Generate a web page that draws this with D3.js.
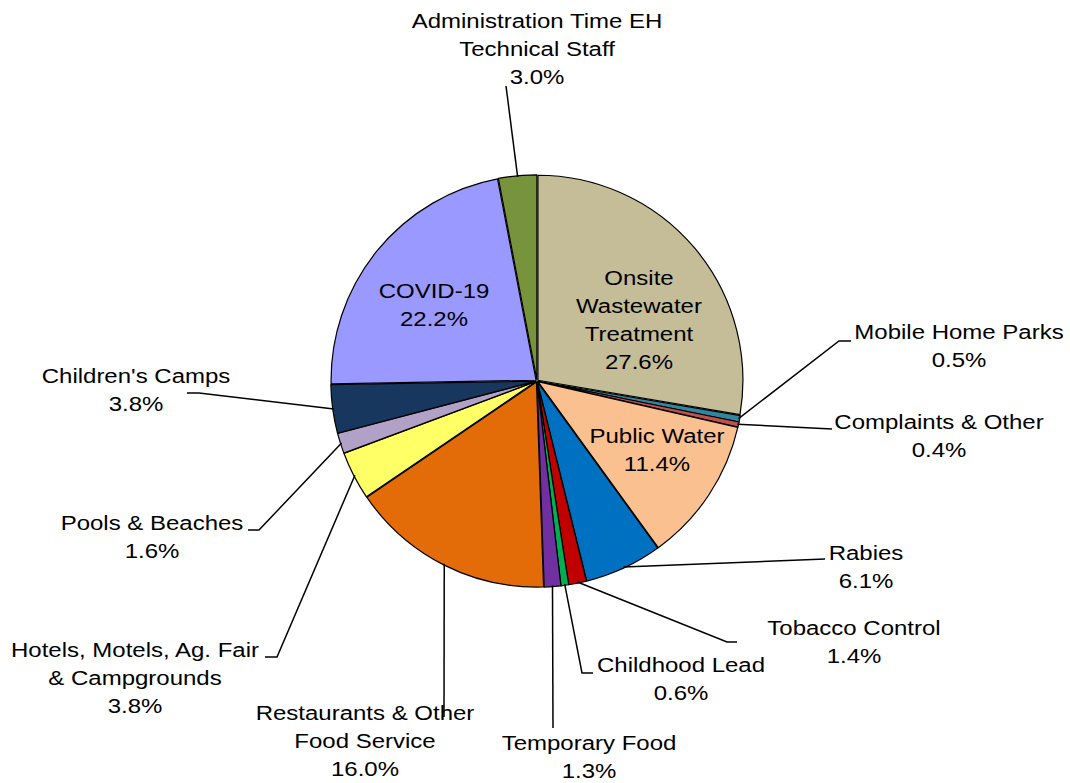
<!DOCTYPE html>
<html>
<head>
<meta charset="utf-8">
<script src="https://cdn.jsdelivr.net/npm/d3@7"></script>
<style>
  html, body { margin: 0; padding: 0; background: #fff; }
  svg text { font-family: "Liberation Sans", Arial, sans-serif; fill: #000; }
</style>
</head>
<body>
<svg id="chart" width="1070" height="783"></svg>
<script>
// ---- data ----
const categories = [
  "Onsite Wastewater Treatment", "Mobile Home Parks", "Complaints & Other", "Public Water",
  "Rabies", "Tobacco Control", "Childhood Lead", "Temporary Food",
  "Restaurants & Other Food Service", "Hotels, Motels, Ag. Fair & Campgrounds",
  "Pools & Beaches", "Children's Camps", "COVID-19", "Administration Time EH Technical Staff"
];
const values = [27.6, 0.5, 0.4, 11.4, 6.1, 1.4, 0.6, 1.3, 16.0, 3.8, 1.6, 3.8, 22.2, 3.0];
const labelLines = [
  ["Onsite", "Wastewater", "Treatment"],
  ["Mobile Home Parks"],
  ["Complaints & Other"],
  ["Public Water"],
  ["Rabies"],
  ["Tobacco Control"],
  ["Childhood Lead"],
  ["Temporary Food"],
  ["Restaurants & Other", "Food Service"],
  ["Hotels, Motels, Ag. Fair", "& Campgrounds"],
  ["Pools & Beaches"],
  ["Children's Camps"],
  ["COVID-19"],
  ["Administration Time EH", "Technical Staff"]
];
const colors = [
  "#C4BD97", "#31859C", "#C0504D", "#FAC090", "#0070C0", "#C00000", "#00B050",
  "#7030A0", "#E36C09", "#FFFF66", "#B2A1C7", "#17375E", "#9999FF", "#77933C"
];

// ---- layout (label anchor: centre x, first baseline y; leader bend points) ----
const labelLayout = [
  { x: 639, y: 285, leader: null },
  { x: 959, y: 339, leader: [[839, 341], [851, 341]] },
  { x: 939, y: 429, leader: [[832, 429]] },
  { x: 657, y: 443, leader: null },
  { x: 866, y: 560, leader: [[825, 559]] },
  { x: 854, y: 635, leader: [[727, 642], [737, 642]] },
  { x: 681, y: 672, leader: [[582, 673], [593, 673]] },
  { x: 589, y: 750, leader: [[553, 728]] },
  { x: 365, y: 720, leader: [[444, 717]] },
  { x: 135, y: 657, leader: [[277, 657], [265, 657]] },
  { x: 152, y: 530, leader: [[259, 530], [248, 530]] },
  { x: 136, y: 383, leader: [[199, 393], [187, 393]] },
  { x: 434, y: 298, leader: null },
  { x: 537, y: 28, leader: [[506, 86]] }
];

const cx = 537, cy = 381, R = 205, lineH = 28, fontSize = 24, vScale = 0.84;

const svg = d3.select("#chart");
const data = categories.map((c, i) => ({ name: c, value: values[i], color: colors[i], lines: labelLines[i], lay: labelLayout[i] }));

const pie = d3.pie().value(d => d.value).sort(null);
const arcs = pie(data);
const arc = d3.arc().innerRadius(0).outerRadius(R);

const g = svg.append("g").attr("transform", `translate(${cx},${cy})`);

// slices, each nudged outward a hair so thin white seams show between outlines
g.selectAll("path.slice")
  .data(arcs)
  .join("path")
  .attr("class", "slice")
  .attr("d", arc)
  .attr("transform", d => {
    const a = (d.startAngle + d.endAngle) / 2;
    return `translate(${Math.sin(a) * 1.2},${-Math.cos(a) * 1.2})`;
  })
  .attr("fill", d => d.data.color)
  .attr("stroke", "#000")
  .attr("stroke-width", 1.2)
  .attr("stroke-linejoin", "round");

// leader lines
const line = d3.line();
arcs.forEach(d => {
  if (!d.data.lay.leader) return;
  const a = (d.startAngle + d.endAngle) / 2;
  const start = [cx + Math.sin(a) * R, cy - Math.cos(a) * R];
  svg.append("path")
    .attr("d", line([start, ...d.data.lay.leader]))
    .attr("fill", "none")
    .attr("stroke", "#000")
    .attr("stroke-width", 1.5);
});

// labels
arcs.forEach(d => {
  const lay = d.data.lay;
  const lines = [...d.data.lines, d.data.value.toFixed(1) + "%"];
  lines.forEach((t, k) => {
    svg.append("text")
      .attr("transform", `translate(${lay.x},${lay.y + k * lineH}) scale(1,${vScale})`)
      .attr("text-anchor", "middle")
      .attr("font-size", fontSize)
      .text(t);
  });
});
</script>
</body>
</html>
